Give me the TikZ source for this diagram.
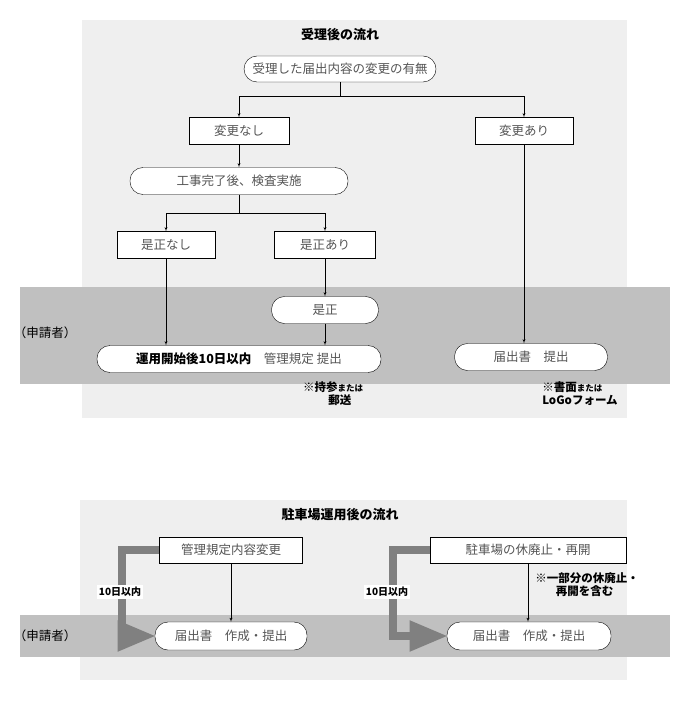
\documentclass[tikz,border=0pt]{standalone}
\usepackage{fontspec}
\setmainfont{Noto Sans CJK JP}
\usetikzlibrary{positioning,shapes,arrows}
\definecolor{panel}{HTML}{EFEFEF}
\definecolor{band}{HTML}{C0C0C0}
\definecolor{boxtext}{HTML}{555555}
\definecolor{fatgray}{HTML}{808080}
\begin{document}
\begin{tikzpicture}[x=1pt,y=-1pt,font=\fontsize{12.5}{14}\selectfont,
    sq/.style={draw,fill=white,text=boxtext,minimum height=27pt,inner sep=2pt},
    rnd/.style={sq,rounded corners=13pt},
    link/.style={-latex'},
    late/.style={line width=8pt,draw=fatgray,-triangle 45},
    note/.style={font=\fontsize{11.5}{13}\selectfont\bfseries,align=left}]
      \useasboundingbox (0,0) rectangle (690,711);

      % backgrounds
      \fill[panel] (82,20) rectangle (627,418);
      \fill[band] (20,287) rectangle (670,384);
      \fill[panel] (80,500) rectangle (627,680);
      \fill[band] (20,615) rectangle (670,657);

      \node[font=\fontsize{13}{15}\selectfont\bfseries] (title1) at (340,35) {受理後の流れ};
      \node[font=\fontsize{13}{15}\selectfont\bfseries] (title2) at (340,515) {駐車場運用後の流れ};
      \node (who1) at (45,333) {（申請者）};
      \node (who2) at (45,636) {（申請者）};

      % upper flow
      \node[rnd,minimum width=192pt,minimum height=26pt] (start) at (340,69) {受理した届出内容の変更の有無};
      \node[sq,minimum width=100pt] (nochg) at (239,131) {変更なし};
      \node[sq,minimum width=98pt] (chg) at (524,131) {変更あり};
      \node[rnd,minimum width=218pt] (insp) at (239,181) {工事完了後、検査実施};
      \node[sq,minimum width=98pt] (okay) at (166,245) {是正なし};
      \node[sq,minimum width=101pt] (fix) at (325,245) {是正あり};
      \node[rnd,minimum width=107pt] (corr) at (325,310) {是正};
      \node[rnd,minimum width=284pt] (rule) at (239,359)
        {\textcolor{black}{\bfseries 運用開始後10日以内}\quad 管理規定 提出};
      \node[rnd,minimum width=153pt] (report) at (531,357) {届出書\quad 提出};
      \node[note] (memo1) at (333,394) {※持参\fontsize{8.5}{10}\selectfont または\\\hspace*{2.2em}郵送};
      \node[note] (memo2) at (580,394) {※書面\fontsize{8.5}{10}\selectfont または\\\fontsize{11.5}{13}\selectfont LoGoフォーム};

      \draw (start.south) -- (340,96) coordinate (fork1);
      \draw[link] (fork1) -| (nochg.north);
      \draw[link] (fork1) -| (chg.north);
      \draw[link] (nochg) -- (insp);
      \draw (insp.south) -- (239,213) coordinate (fork2);
      \draw[link] (fork2) -| (okay.north);
      \draw[link] (fork2) -| (fix.north);
      \draw[link] (fix) -- (corr);
      \draw[link] (corr) -- (corr |- rule.north);
      \draw[link] (okay) -- (okay |- rule.north);
      \draw[link] (chg) -- (chg |- report.north);

      % lower flow
      \node[sq,minimum width=143pt,minimum height=26pt] (edit) at (231,550) {管理規定内容変更};
      \node[sq,minimum width=196pt,minimum height=26pt] (halt) at (528,550) {駐車場の休廃止・再開};
      \node[rnd,minimum width=152pt,minimum height=28pt] (send1) at (231,636) {届出書\quad 作成・提出};
      \node[rnd,minimum width=164pt,minimum height=28pt] (send2) at (529,636) {届出書\quad 作成・提出};
      \node[note] (memo3) at (587,585) {※一部分の休廃止・\\\hspace*{1.8em}再開を含む};

      \draw[link] (edit) -- (edit |- send1.north);
      \draw[link] (halt) -- (halt |- send2.north);
      \draw[late] (edit.west) -- (122,550) -- (122,636) -- (send1.west);
      \draw[late] (halt.west) -- (393,550) -- (393,636) -- (send2.west);
      \node[fill=white,font=\bfseries,inner sep=2pt] (days1) at (120,592) {10日以内};
      \node[fill=white,font=\bfseries,inner sep=2pt] (days2) at (387,592) {10日以内};
\end{tikzpicture}
\end{document}
